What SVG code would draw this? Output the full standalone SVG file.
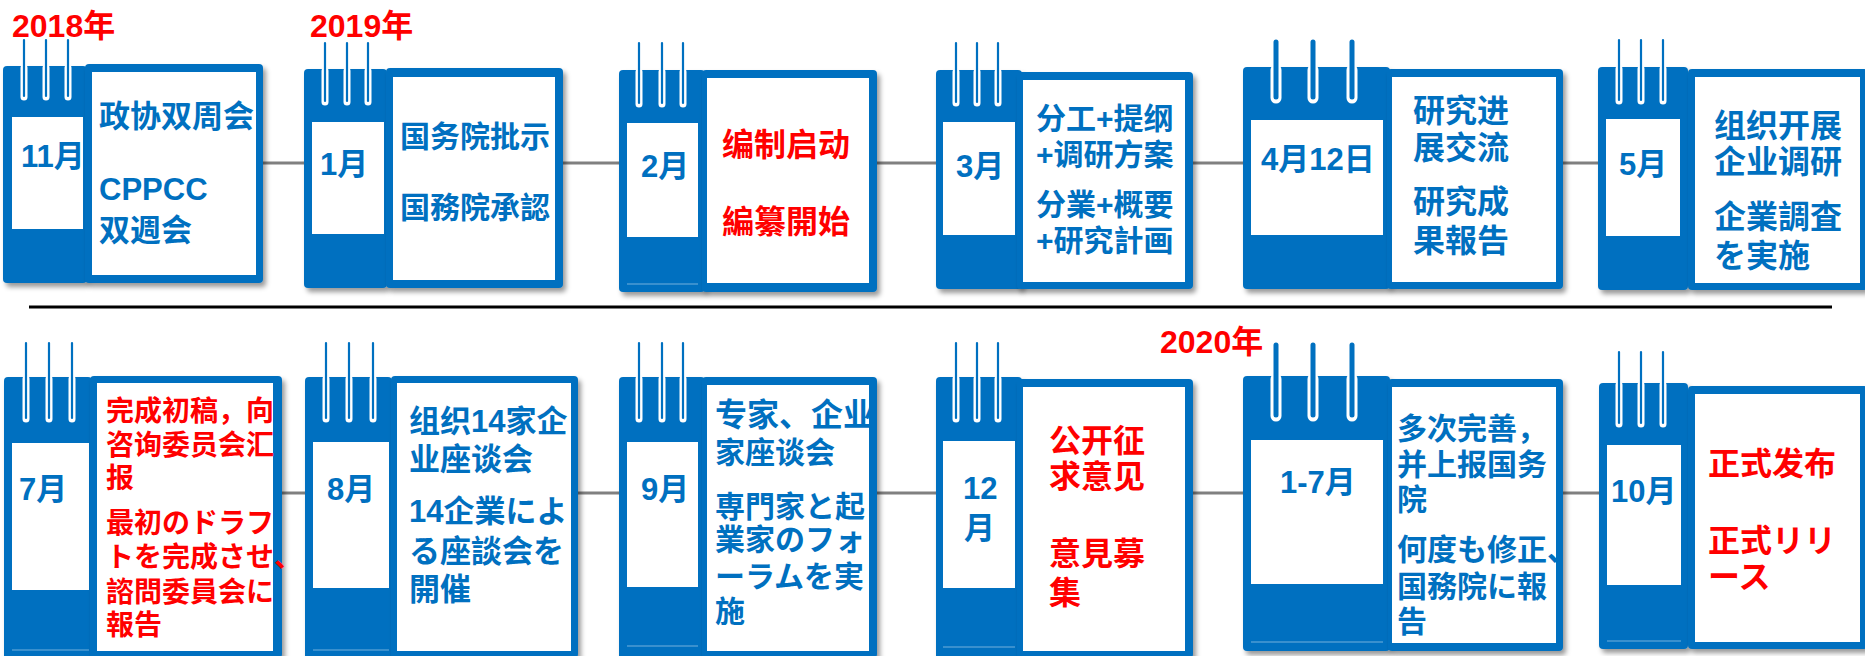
<svg xmlns="http://www.w3.org/2000/svg" width="1865" height="656" viewBox="0 0 1865 656">
<defs>
<filter id="sh" x="-10%" y="-10%" width="130%" height="130%"><feDropShadow dx="3" dy="4" stdDeviation="2.5" flood-color="#000" flood-opacity="0.4"/></filter>
<clipPath id="c9"><rect x="707" y="385" width="162" height="266"/></clipPath>
</defs>
<style>
.panel{fill:#0070C0;filter:url(#sh)}
.card{fill:#0070C0;filter:url(#sh)}
.win{fill:#fff}
.tear{stroke:#fff;stroke-opacity:0.45;stroke-width:1.2}
.rw{stroke:#fff;stroke-width:7;stroke-linecap:round}
.rb{stroke:#0070C0;stroke-width:2.2;stroke-linecap:round}
.rw2{stroke:#fff;stroke-width:11;stroke-linecap:round}
.rb2{stroke:#0070C0;stroke-width:5;stroke-linecap:round}
.conn{stroke:#808080;stroke-width:3}
.sep{stroke:#000;stroke-width:3}
.t{font-family:"Liberation Sans","Noto Sans CJK SC",sans-serif;font-weight:bold}
.b{fill:#0070C0}
.r{fill:#FF0000}
</style>
<g id="connectors">
<line class="conn" x1="263" y1="163" x2="304" y2="163"/>
<line class="conn" x1="563" y1="163" x2="619" y2="163"/>
<line class="conn" x1="877" y1="163" x2="936" y2="163"/>
<line class="conn" x1="1193" y1="163" x2="1243" y2="163"/>
<line class="conn" x1="1563" y1="163" x2="1598" y2="163"/>
<line class="conn" x1="282" y1="493" x2="305" y2="493"/>
<line class="conn" x1="578" y1="493" x2="619" y2="493"/>
<line class="conn" x1="877" y1="493" x2="936" y2="493"/>
<line class="conn" x1="1193" y1="493" x2="1243" y2="493"/>
<line class="conn" x1="1563" y1="493" x2="1599" y2="493"/>
</g>
<line id="separator" class="sep" x1="29" y1="307" x2="1832" y2="307"/>
<g id="years" class="t r" font-size="32">
<text x="12" y="37">2018年</text>
<text x="310" y="37">2019年</text>
<text x="1160" y="353">2020年</text>
</g>

<g id="n1">
<rect class="panel" x="3" y="66" width="84" height="217" rx="4"/>
<line class="rw" x1="24" y1="68" x2="24" y2="97"/><line class="rw" x1="46" y1="68" x2="46" y2="97"/><line class="rw" x1="68" y1="68" x2="68" y2="97"/>
<line class="rb" x1="24" y1="40" x2="24" y2="96"/><line class="rb" x1="46" y1="40" x2="46" y2="96"/><line class="rb" x1="68" y1="40" x2="68" y2="96"/>
<rect class="win" x="12" y="117" width="71" height="112"/>
<rect class="card" x="85" y="64" width="178" height="219" rx="4"/>
<rect class="win" x="92" y="72" width="164" height="203"/>
<text class="t b" x="21" y="167" font-size="31">11月</text>
<g class="t b" font-size="31"><text x="99" y="127">政协双周会</text><text x="99" y="200">CPPCC</text><text x="99" y="241">双週会</text></g>
</g>

<g id="n2">
<rect class="panel" x="304" y="69" width="83" height="219" rx="4"/>
<line class="rw" x1="325" y1="71" x2="325" y2="102"/><line class="rw" x1="347" y1="71" x2="347" y2="102"/><line class="rw" x1="368" y1="71" x2="368" y2="102"/>
<line class="rb" x1="325" y1="43" x2="325" y2="101"/><line class="rb" x1="347" y1="43" x2="347" y2="101"/><line class="rb" x1="368" y1="43" x2="368" y2="101"/>
<rect class="win" x="312" y="122" width="72" height="112"/>
<rect class="card" x="386" y="68" width="177" height="220" rx="4"/>
<rect class="win" x="393" y="77" width="162" height="203"/>
<text class="t b" x="320" y="175" font-size="31">1月</text>
<g class="t b" font-size="30"><text x="400" y="147">国务院批示</text><text x="400" y="218">国務院承認</text></g>
</g>

<g id="n3">
<rect class="panel" x="619" y="70" width="86" height="222" rx="4"/>
<line class="rw" x1="639" y1="72" x2="639" y2="104"/><line class="rw" x1="662" y1="72" x2="662" y2="104"/><line class="rw" x1="683" y1="72" x2="683" y2="104"/>
<line class="rb" x1="639" y1="43" x2="639" y2="103"/><line class="rb" x1="662" y1="43" x2="662" y2="103"/><line class="rb" x1="683" y1="43" x2="683" y2="103"/>
<rect class="win" x="627" y="123" width="71" height="114"/>
<line class="tear" x1="627" y1="284" x2="698" y2="284"/>
<rect class="card" x="702" y="70" width="175" height="222" rx="4"/>
<rect class="win" x="707" y="78" width="162" height="205"/>
<text class="t b" x="641" y="177" font-size="31">2月</text>
<g class="t r" font-size="32"><text x="722" y="156">编制启动</text><text x="722" y="233">編纂開始</text></g>
</g>

<g id="n4">
<rect class="panel" x="936" y="70" width="86" height="219" rx="4"/>
<line class="rw" x1="956" y1="72" x2="956" y2="103"/><line class="rw" x1="977" y1="72" x2="977" y2="103"/><line class="rw" x1="998" y1="72" x2="998" y2="103"/>
<line class="rb" x1="956" y1="43" x2="956" y2="102"/><line class="rb" x1="977" y1="43" x2="977" y2="102"/><line class="rb" x1="998" y1="43" x2="998" y2="102"/>
<rect class="win" x="943" y="122" width="72" height="113"/>
<rect class="card" x="1017" y="72" width="176" height="217" rx="4"/>
<rect class="win" x="1023" y="80" width="162" height="202"/>
<text class="t b" x="956" y="177" font-size="31">3月</text>
<g class="t b" font-size="30"><text x="1036" y="129">分工+提纲</text><text x="1036" y="165">+调研方案</text><text x="1036" y="215">分業+概要</text><text x="1036" y="251">+研究計画</text></g>
</g>

<g id="n5">
<rect class="panel" x="1243" y="67" width="147" height="222" rx="4"/>
<line class="rw2" x1="1276" y1="70" x2="1276" y2="98"/><line class="rw2" x1="1313" y1="70" x2="1313" y2="98"/><line class="rw2" x1="1352" y1="70" x2="1352" y2="98"/>
<line class="rb2" x1="1276" y1="42" x2="1276" y2="97"/><line class="rb2" x1="1313" y1="42" x2="1313" y2="97"/><line class="rb2" x1="1352" y1="42" x2="1352" y2="97"/>
<rect class="win" x="1251" y="120" width="132" height="115"/>
<rect class="card" x="1387" y="69" width="176" height="220" rx="4"/>
<rect class="win" x="1392" y="77" width="164" height="205"/>
<text class="t b" x="1261" y="170" font-size="31">4月12日</text>
<g class="t b" font-size="32"><text x="1413" y="122">研究进</text><text x="1413" y="159">展交流</text><text x="1413" y="213">研究成</text><text x="1413" y="252">果報告</text></g>
</g>

<g id="n6">
<rect class="panel" x="1598" y="67" width="90" height="223" rx="4"/>
<line class="rw" x1="1619" y1="69" x2="1619" y2="101"/><line class="rw" x1="1641" y1="69" x2="1641" y2="101"/><line class="rw" x1="1663" y1="69" x2="1663" y2="101"/>
<line class="rb" x1="1619" y1="40" x2="1619" y2="100"/><line class="rb" x1="1641" y1="40" x2="1641" y2="100"/><line class="rb" x1="1663" y1="40" x2="1663" y2="100"/>
<rect class="win" x="1606" y="119" width="74" height="117"/>
<rect class="card" x="1688" y="69" width="180" height="221" rx="4"/>
<rect class="win" x="1695" y="77" width="165" height="206"/>
<text class="t b" x="1619" y="175" font-size="31">5月</text>
<g class="t b" font-size="32"><text x="1714" y="137">组织开展</text><text x="1714" y="173">企业调研</text><text x="1714" y="228">企業調査</text><text x="1714" y="267">を実施</text></g>
</g>

<g id="n7">
<rect class="panel" x="4" y="377" width="88" height="285" rx="4"/>
<line class="rw" x1="26" y1="379" x2="26" y2="419"/><line class="rw" x1="49" y1="379" x2="49" y2="419"/><line class="rw" x1="72" y1="379" x2="72" y2="419"/>
<line class="rb" x1="26" y1="343" x2="26" y2="418"/><line class="rb" x1="49" y1="343" x2="49" y2="418"/><line class="rb" x1="72" y1="343" x2="72" y2="418"/>
<rect class="win" x="12" y="443" width="77" height="147"/>
<line class="tear" x1="12" y1="650" x2="89" y2="650"/>
<rect class="card" x="90" y="376" width="192" height="282" rx="4"/>
<rect class="win" x="97" y="383" width="176" height="268"/>
<text class="t b" x="19" y="500" font-size="31">7月</text>
<g class="t r" font-size="28"><text x="106" y="421">完成初稿，向</text><text x="106" y="455">咨询委员会汇</text><text x="106" y="488">报</text><text x="106" y="533">最初のドラフ</text><text x="106" y="567">トを完成させ、</text><text x="106" y="602">諮問委員会に</text><text x="106" y="635">報告</text></g>
</g>

<g id="n8">
<rect class="panel" x="305" y="377" width="87" height="285" rx="4"/>
<line class="rw" x1="326" y1="379" x2="326" y2="419"/><line class="rw" x1="349" y1="379" x2="349" y2="419"/><line class="rw" x1="373" y1="379" x2="373" y2="419"/>
<line class="rb" x1="326" y1="343" x2="326" y2="418"/><line class="rb" x1="349" y1="343" x2="349" y2="418"/><line class="rb" x1="373" y1="343" x2="373" y2="418"/>
<rect class="win" x="313" y="442" width="76" height="146"/>
<line class="tear" x1="313" y1="650" x2="389" y2="650"/>
<rect class="card" x="391" y="376" width="187" height="282" rx="4"/>
<rect class="win" x="397" y="383" width="174" height="268"/>
<text class="t b" x="327" y="500" font-size="31">8月</text>
<g class="t b" font-size="31"><text x="409" y="432">组织14家企</text><text x="409" y="470">业座谈会</text><text x="409" y="522">14企業によ</text><text x="409" y="562">る座談会を</text><text x="409" y="600">開催</text></g>
</g>

<g id="n9">
<rect class="panel" x="619" y="377" width="86" height="285" rx="4"/>
<line class="rw" x1="639" y1="379" x2="639" y2="419"/><line class="rw" x1="662" y1="379" x2="662" y2="419"/><line class="rw" x1="683" y1="379" x2="683" y2="419"/>
<line class="rb" x1="639" y1="343" x2="639" y2="418"/><line class="rb" x1="662" y1="343" x2="662" y2="418"/><line class="rb" x1="683" y1="343" x2="683" y2="418"/>
<rect class="win" x="627" y="442" width="71" height="145"/>
<line class="tear" x1="627" y1="646" x2="698" y2="646"/>
<rect class="card" x="702" y="377" width="175" height="281" rx="4"/>
<rect class="win" x="707" y="385" width="162" height="266"/>
<text class="t b" x="641" y="500" font-size="31">9月</text>
<g class="t b" font-size="30" clip-path="url(#c9)"><text x="715" y="426" font-size="32">专家、企业</text><text x="715" y="463">家座谈会</text><text x="715" y="517">専門家と起</text><text x="715" y="550">業家のフォ</text><text x="715" y="587">ーラムを実</text><text x="715" y="622">施</text></g>
</g>

<g id="n10">
<rect class="panel" x="936" y="377" width="86" height="285" rx="4"/>
<line class="rw" x1="956" y1="379" x2="956" y2="419"/><line class="rw" x1="977" y1="379" x2="977" y2="419"/><line class="rw" x1="998" y1="379" x2="998" y2="419"/>
<line class="rb" x1="956" y1="343" x2="956" y2="418"/><line class="rb" x1="977" y1="343" x2="977" y2="418"/><line class="rb" x1="998" y1="343" x2="998" y2="418"/>
<rect class="win" x="943" y="441" width="72" height="147"/>
<line class="tear" x1="943" y1="647" x2="1015" y2="647"/>
<rect class="card" x="1017" y="379" width="176" height="279" rx="4"/>
<rect class="win" x="1023" y="387" width="162" height="264"/>
<text class="t b" x="963" y="499" font-size="31">12</text>
<text class="t b" x="964" y="539" font-size="31">月</text>
<g class="t r" font-size="32"><text x="1049" y="452">公开征</text><text x="1049" y="488">求意见</text><text x="1049" y="565">意見募</text><text x="1049" y="604">集</text></g>
</g>

<g id="n11">
<rect class="panel" x="1243" y="376" width="147" height="275" rx="4"/>
<line class="rw2" x1="1276" y1="379" x2="1276" y2="416"/><line class="rw2" x1="1313" y1="379" x2="1313" y2="416"/><line class="rw2" x1="1352" y1="379" x2="1352" y2="416"/>
<line class="rb2" x1="1276" y1="345" x2="1276" y2="415"/><line class="rb2" x1="1313" y1="345" x2="1313" y2="415"/><line class="rb2" x1="1352" y1="345" x2="1352" y2="415"/>
<rect class="win" x="1251" y="440" width="132" height="144"/>
<line class="tear" x1="1251" y1="642" x2="1383" y2="642"/>
<rect class="card" x="1388" y="379" width="175" height="272" rx="4"/>
<rect class="win" x="1392" y="387" width="164" height="256"/>
<text class="t b" x="1280" y="493" font-size="31">1-7月</text>
<g class="t b" font-size="30"><text x="1397" y="439">多次完善，</text><text x="1397" y="475">并上报国务</text><text x="1397" y="510">院</text><text x="1397" y="560">何度も修正、</text><text x="1397" y="597">国務院に報</text><text x="1397" y="632">告</text></g>
</g>

<g id="n12">
<rect class="panel" x="1599" y="383" width="89" height="266" rx="4"/>
<line class="rw" x1="1619" y1="385" x2="1619" y2="424"/><line class="rw" x1="1641" y1="385" x2="1641" y2="424"/><line class="rw" x1="1663" y1="385" x2="1663" y2="424"/>
<line class="rb" x1="1619" y1="352" x2="1619" y2="423"/><line class="rb" x1="1641" y1="352" x2="1641" y2="423"/><line class="rb" x1="1663" y1="352" x2="1663" y2="423"/>
<rect class="win" x="1607" y="445" width="74" height="140"/>
<line class="tear" x1="1607" y1="641" x2="1681" y2="641"/>
<rect class="card" x="1688" y="386" width="180" height="263" rx="4"/>
<rect class="win" x="1695" y="394" width="165" height="248"/>
<text class="t b" x="1611" y="502" font-size="31">10月</text>
<g class="t r" font-size="32"><text x="1708" y="475">正式发布</text><text x="1708" y="552">正式リリ</text><text x="1708" y="588">ース</text></g>
</g>
</svg>
